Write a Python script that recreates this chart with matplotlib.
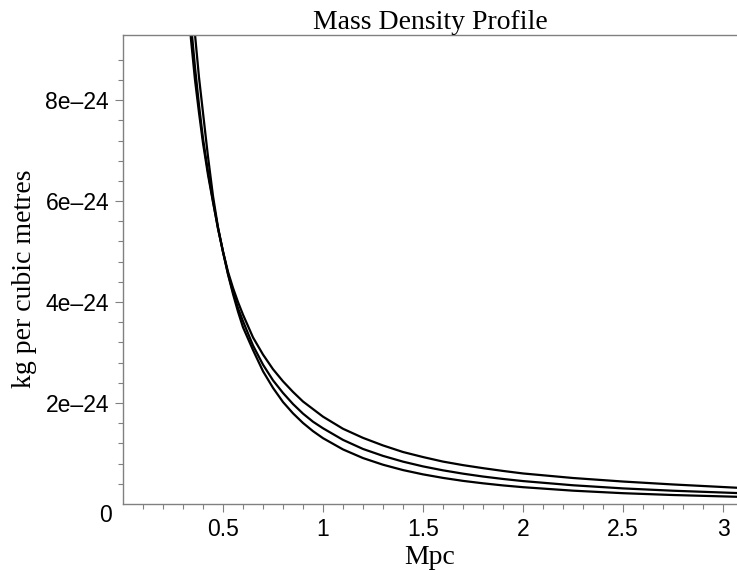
import matplotlib
matplotlib.use("Agg")
import matplotlib.pyplot as plt
import numpy as np

# radius in Mpc
radius = [0.30, 0.32, 0.34, 0.36, 0.38, 0.40, 0.425, 0.45, 0.475, 0.50, 0.525, 0.55,
          0.575, 0.60, 0.65, 0.70, 0.75, 0.80, 0.85, 0.90, 0.95, 1.00, 1.10, 1.20,
          1.30, 1.40, 1.50, 1.60, 1.70, 1.80, 1.90, 2.00, 2.25, 2.50, 2.75, 3.07]
# densities in units of 1e-24 kg/m^3
density_upper = [11.5, 10.2, 9.2, 8.4, 7.75, 7.15, 6.52, 5.98, 5.47, 5.0, 4.6, 4.28,
                 4.0, 3.75, 3.30, 2.96, 2.67, 2.43, 2.22, 2.03, 1.88, 1.73, 1.49, 1.31,
                 1.16, 1.03, 0.93, 0.84, 0.77, 0.71, 0.655, 0.605, 0.515, 0.445, 0.387, 0.322]
density_middle = [11.9, 10.6, 9.5, 8.65, 7.9, 7.24, 6.58, 6.0, 5.45, 5.0, 4.56, 4.2,
                  3.88, 3.62, 3.14, 2.76, 2.45, 2.20, 1.98, 1.79, 1.63, 1.50, 1.27, 1.09,
                  0.953, 0.839, 0.745, 0.667, 0.601, 0.544, 0.496, 0.454, 0.371, 0.309, 0.263, 0.217]
density_lower = [13.5, 11.9, 10.5, 9.3, 8.45, 7.75, 6.88, 6.1, 5.48, 4.99, 4.55, 4.16,
                 3.81, 3.50, 3.05, 2.63, 2.30, 2.02, 1.796, 1.605, 1.443, 1.304, 1.081, 0.91,
                 0.778, 0.672, 0.587, 0.517, 0.458, 0.41, 0.368, 0.333, 0.264, 0.214, 0.178, 0.143]

xticks = [0.5, 1, 1.5, 2, 2.5, 3]
xticklabels = ["0.5", "1", "1.5", "2", "2.5", "3"]
yticks = [2e-24, 4e-24, 6e-24, 8e-24]
yticklabels = ["2e\u201324", "4e\u201324", "6e\u201324", "8e\u201324"]

scale = 1e-24
gray = "#808080"
serif = ["Liberation Serif", "DejaVu Serif"]
sans = ["Liberation Sans", "DejaVu Sans"]

fig = plt.figure(figsize=(7.37, 5.70), dpi=100)
ax = fig.add_axes([123/737, 66/570, 614/737, 469/570])

r = np.array(radius)
for d in (density_upper, density_middle, density_lower):
    ax.plot(r, np.array(d) * scale, color="black", lw=1.6,
            solid_joinstyle="round", solid_capstyle="round")

ax.set_xlim(0, 3.07)
ax.set_ylim(0, 9.29e-24)

ax.spines["right"].set_visible(False)
for s in ("left", "bottom", "top"):
    ax.spines[s].set_color(gray)
    ax.spines[s].set_linewidth(1.0)

ax.set_xticks(xticks)
ax.set_xticklabels(xticklabels, fontfamily=sans, fontsize=16.5)
ax.set_xticks(np.arange(0.1, 3.07, 0.1), minor=True)
ax.set_yticks(yticks)
ax.set_yticklabels(yticklabels, fontfamily=sans, fontsize=16.5)
ax.set_yticks(np.arange(0.4e-24, 9.2e-24, 0.4e-24), minor=True)

ax.tick_params(which="major", direction="out", length=6, width=0.8, color=gray, pad=4)
ax.tick_params(which="minor", direction="out", length=3.3, width=0.8, color=gray)
ax.tick_params(axis="x", which="both", top=False)

ax.annotate("0", xy=(0, 0), xycoords="data", xytext=(-17, -11), textcoords="offset pixels",
            ha="center", va="center", fontfamily=sans, fontsize=16.5)

ax.set_title("Mass Density Profile", fontfamily=serif, fontsize=20, pad=4)
ax.set_xlabel("Mpc", fontfamily=serif, fontsize=20, labelpad=3)
ax.set_ylabel("kg per cubic metres", fontfamily=serif, fontsize=20)
ax.yaxis.set_label_coords(-0.140, 0.48)

fig.savefig("out.png", dpi=100)
